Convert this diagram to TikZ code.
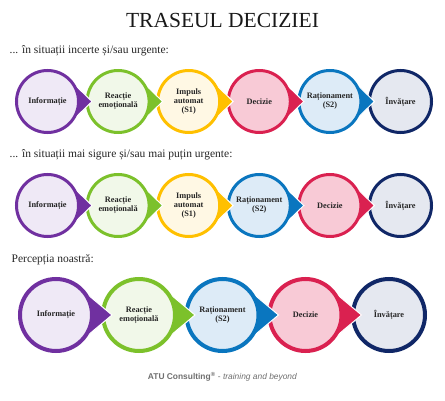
\documentclass[tikz,border=0pt]{standalone}
\usepackage{fontspec}
\setmainfont{Liberation Serif}
\setsansfont{Liberation Sans}
\definecolor{pD}{HTML}{7030A0}\definecolor{pL}{HTML}{EFE9F6}
\definecolor{gD}{HTML}{7CC12B}\definecolor{gL}{HTML}{F1F8E9}
\definecolor{yD}{HTML}{FFC000}\definecolor{yL}{HTML}{FFF8E4}
\definecolor{rD}{HTML}{DA2150}\definecolor{rL}{HTML}{F8CAD6}
\definecolor{bD}{HTML}{0A76BF}\definecolor{bL}{HTML}{DDEBF7}
\definecolor{nD}{HTML}{102767}\definecolor{nL}{HTML}{E5E8F0}
\definecolor{foot}{HTML}{6F6F6F}
\tikzset{
  bub/.style={circle, inner sep=0pt, line width=3pt, align=center,
    font=\bfseries\fontsize{8.3}{9}\selectfont, text=black!85},
  sub/.style={anchor=west, inner sep=0pt, font=\fontsize{11.5}{13}\selectfont, text=black!85}
}
\newcommand\tdrop[8]{%
  \pgfmathsetmacro\tdca{#4/#5}%
  \pgfmathsetmacro\tdsa{sqrt(1-\tdca*\tdca)}%
  \pgfmathsetmacro\tdang{acos(\tdca)}%
  \filldraw[fill=#6, draw=white, line width=1pt]
    ({#2+#4*\tdca},{#3+#4*\tdsa}) -- ({#2+#5},#3) -- ({#2+#4*\tdca},{#3-#4*\tdsa})
    arc[start angle=-\tdang, end angle={\tdang-360}, radius=#4pt] -- cycle;
  \node[bub, draw=#6, fill=#7, minimum size={2*#4pt}] (#1) at (#2,#3) {#8};
}
\newcommand\tlast[6]{%
  \node[bub, draw=#4, fill=#5, minimum size={2*#3pt}] (#1) at (#2) {#6};
}
\begin{document}
\begin{tikzpicture}[x=1pt,y=1pt]
\useasboundingbox (0,0) rectangle (445,400);
\fill[white] (0,0) rectangle (445,400);
\node[font=\fontsize{21.5}{24}\selectfont, text=black!90] (title) at (222.5,380) {TRASEUL DECIZIEI};
\node[sub] (s1) at (9.5,349) {... în situații incerte și/sau urgente:};
\node[sub] (s2) at (9.5,245) {... în situații mai sigure și/sau mai puțin urgente:};
\node[sub] (s3) at (11.5,140) {Percepția noastră:};
% row 1
\tlast{a6}{400.5,298.5}{31}{nD}{nL}{Învățare}
\tdrop{a5}{329.9}{298.5}{31}{44.5}{bD}{bL}{Raționament\\(S2)}
\tdrop{a4}{259.3}{298.5}{31}{44.5}{rD}{rL}{Decizie}
\tdrop{a3}{188.7}{298.5}{31}{44.5}{yD}{yL}{Impuls\\automat\\(S1)}
\tdrop{a2}{118.1}{298.5}{31}{44.5}{gD}{gL}{Reacție\\emoțională}
\tdrop{a1}{47.5}{298.5}{31}{44.5}{pD}{pL}{Informație}
% row 2
\tlast{b6}{400.5,194.5}{31}{nD}{nL}{Învățare}
\tdrop{b5}{329.9}{194.5}{31}{44.5}{rD}{rL}{Decizie}
\tdrop{b4}{259.3}{194.5}{31}{44.5}{bD}{bL}{Raționament\\(S2)}
\tdrop{b3}{188.7}{194.5}{31}{44.5}{yD}{yL}{Impuls\\automat\\(S1)}
\tdrop{b2}{118.1}{194.5}{31}{44.5}{gD}{gL}{Reacție\\emoțională}
\tdrop{b1}{47.5}{194.5}{31}{44.5}{pD}{pL}{Informație}
% row 3
\begin{scope}[bub/.append style={line width=4pt}]
\tlast{c5}{389,85}{36}{nD}{nL}{Învățare}
\tdrop{c4}{305.5}{85}{36}{56}{rD}{rL}{Decizie}
\tdrop{c3}{222.5}{85}{36}{56}{bD}{bL}{Raționament\\(S2)}
\tdrop{c2}{139}{85}{36}{56}{gD}{gL}{Reacție\\emoțională}
\tdrop{c1}{56}{85}{36}{56}{pD}{pL}{Informație}
\end{scope}
\node[font=\sffamily\fontsize{8.4}{10}\selectfont, text=foot] (foot) at (222.5,23)
  {\textbf{ATU Consulting\textsuperscript{®}} - \textit{training and beyond}};
\end{tikzpicture}
\end{document}
